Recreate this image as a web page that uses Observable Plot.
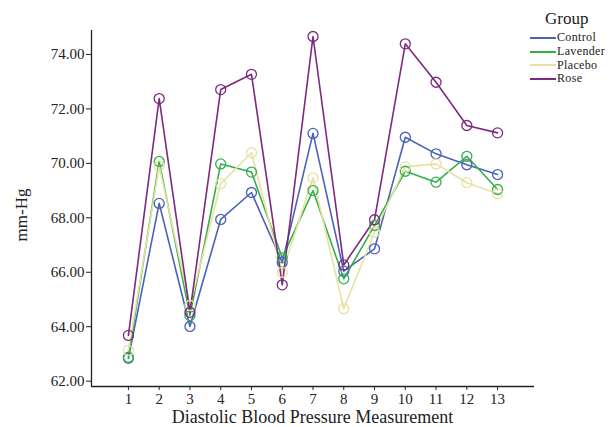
<!DOCTYPE html>
<html>
<head>
<meta charset="utf-8">
<script src="https://cdn.jsdelivr.net/npm/d3@7"></script>
<script src="https://cdn.jsdelivr.net/npm/@observablehq/plot@0.6"></script>
<style>
  html, body { margin: 0; padding: 0; background: #fff; }
  #wrap { position: relative; width: 616px; height: 427px; font-family: "Liberation Serif", serif; color: #222; }
  #legend { position: absolute; left: 530px; top: 9px; }
  #legend .title { font-size: 17px; margin-left: 15px; line-height: 20px; height: 22px; }
  #legend .item { display: flex; align-items: center; font-size: 12px; letter-spacing: 0.35px; line-height: 13.8px; height: 13.8px; }
  #legend .sw { width: 26px; height: 0; border-top: 2px solid; margin-right: 1px; }
  #xtitle { position: absolute; left: 91px; width: 443px; top: 407px; text-align: center; font-size: 18px; line-height: 20px; }
  #ytitle { position: absolute; left: 22px; top: 215px; font-size: 17px; line-height: 18px; transform: translate(-50%, -50%) rotate(-90deg); white-space: nowrap; }
</style>
</head>
<body>
<div id="wrap"><div id="legend"></div><div id="xtitle"></div><div id="ytitle"></div></div>
<script>
const measurements = [1, 2, 3, 4, 5, 6, 7, 8, 9, 10, 11, 12, 13];
const groups = ["Control", "Lavender", "Placebo", "Rose"];
const colors = ["#4a62b8", "#33b04a", "#e6e2a4", "#7d2a7e"];
const control  = [62.84, 68.53, 64.01, 67.94, 68.93, 66.36, 71.10, 66.04, 66.86, 70.96, 70.35, 69.95, 69.59];
const lavender = [62.88, 70.07, 64.41, 69.98, 69.68, 66.53, 69.00, 65.76, 67.72, 69.71, 69.31, 70.26, 69.04];
const placebo  = [63.13, 69.90, 64.78, 69.25, 70.39, 66.00, 69.47, 64.66, 67.47, 69.87, 69.98, 69.29, 68.88];
const rose     = [63.68, 72.38, 64.53, 72.71, 73.27, 65.54, 74.66, 66.27, 67.93, 74.39, 72.98, 71.39, 71.12];
const yTicks = [62, 64, 66, 68, 70, 72, 74];
const xTitle = "Diastolic Blood Pressure Measurement";
const yTitle = "mm-Hg";
const legendTitle = "Group";

const series = [control, lavender, placebo, rose];
const data = [];
groups.forEach((g, i) => measurements.forEach((m, j) => data.push({group: g, m, v: series[i][j]})));

const xDomain = [-0.2, 14.2];
const yDomain = [61.805, 74.88];

const chart = Plot.plot({
  width: 616,
  height: 427,
  marginLeft: 91,
  marginRight: 82,
  marginTop: 30,
  marginBottom: 41,
  style: {fontFamily: "Liberation Serif, serif", fontSize: "15px", color: "#222", background: "#fff"},
  x: {domain: xDomain, ticks: measurements, tickSize: 4, tickPadding: 3, tickFormat: d => String(d), label: null},
  y: {domain: yDomain, ticks: yTicks, tickSize: 5, tickPadding: 2, tickFormat: d => d.toFixed(2), label: null},
  color: {domain: groups, range: colors},
  marks: [
    Plot.ruleX([xDomain[0]], {stroke: "#222", strokeWidth: 1.3}),
    Plot.ruleY([yDomain[0]], {stroke: "#222", strokeWidth: 1.3}),
    Plot.line(data, {x: "m", y: "v", z: "group", stroke: "group", strokeWidth: 1.6}),
    Plot.dot(data, {x: "m", y: "v", stroke: "group", r: 5, strokeWidth: 1.3, fill: "none"})
  ]
});
chart.style.position = "absolute";
chart.style.left = "0";
chart.style.top = "0";
const wrap = document.getElementById("wrap");
wrap.insertBefore(chart, wrap.firstChild);

document.getElementById("xtitle").textContent = xTitle;
document.getElementById("ytitle").textContent = yTitle;
const legend = document.getElementById("legend");
legend.innerHTML = `<div class="title">${legendTitle}</div>` + groups.map((g, i) =>
  `<div class="item"><span class="sw" style="border-color:${colors[i]}"></span>${g}</div>`).join("");
</script>
</body>
</html>
